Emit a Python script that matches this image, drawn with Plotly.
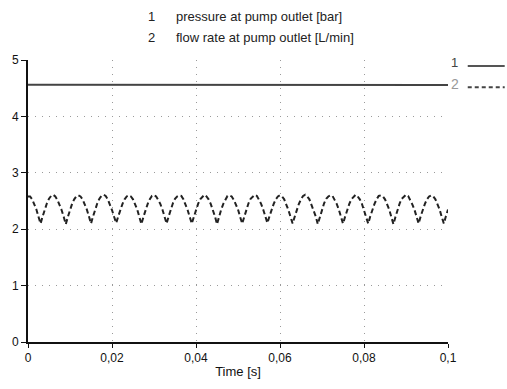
import plotly.graph_objects as go

# ---- data ----
pressure_time = [0.0, 0.01, 0.02, 0.03, 0.04, 0.05, 0.06, 0.07, 0.08, 0.09, 0.1]
pressure_bar = [4.56, 4.56, 4.555, 4.56, 4.565, 4.56, 4.555, 4.56, 4.56, 4.555, 4.555]

flow_step = 0.0005
flow_lpm = [
    2.58, 2.58, 2.53, 2.45, 2.35, 2.22, 2.10, 2.23, 2.35, 2.46, 2.54, 2.59,
    2.61, 2.58, 2.52, 2.44, 2.34, 2.22, 2.09, 2.22, 2.35, 2.45, 2.53, 2.58,
    2.60, 2.58, 2.53, 2.45, 2.35, 2.23, 2.10, 2.23, 2.36, 2.46, 2.54, 2.59,
    2.61, 2.59, 2.53, 2.44, 2.34, 2.22, 2.11, 2.23, 2.35, 2.45, 2.53, 2.58,
    2.60, 2.58, 2.53, 2.45, 2.35, 2.22, 2.09, 2.22, 2.35, 2.45, 2.53, 2.59,
    2.61, 2.58, 2.52, 2.45, 2.35, 2.23, 2.10, 2.23, 2.35, 2.46, 2.54, 2.58,
    2.60, 2.59, 2.53, 2.45, 2.34, 2.22, 2.10, 2.22, 2.35, 2.45, 2.53, 2.58,
    2.61, 2.58, 2.53, 2.45, 2.35, 2.23, 2.09, 2.23, 2.35, 2.45, 2.53, 2.59,
    2.60, 2.58, 2.52, 2.44, 2.35, 2.22, 2.10, 2.22, 2.36, 2.46, 2.54, 2.58,
    2.61, 2.59, 2.53, 2.45, 2.35, 2.23, 2.11, 2.23, 2.35, 2.45, 2.53, 2.58,
    2.60, 2.58, 2.53, 2.45, 2.34, 2.22, 2.10, 2.22, 2.35, 2.45, 2.53, 2.59,
    2.61, 2.58, 2.53, 2.44, 2.35, 2.23, 2.09, 2.23, 2.35, 2.46, 2.54, 2.58,
    2.60, 2.59, 2.52, 2.45, 2.35, 2.22, 2.10, 2.22, 2.35, 2.45, 2.53, 2.58,
    2.61, 2.58, 2.53, 2.45, 2.34, 2.23, 2.10, 2.23, 2.36, 2.45, 2.53, 2.59,
    2.60, 2.58, 2.53, 2.45, 2.35, 2.22, 2.09, 2.22, 2.35, 2.46, 2.54, 2.58,
    2.61, 2.59, 2.52, 2.44, 2.35, 2.23, 2.10, 2.23, 2.35, 2.45, 2.53, 2.58,
    2.60, 2.58, 2.53, 2.45, 2.35, 2.22, 2.10, 2.23, 2.35,
]
flow_time = [round(i * flow_step, 5) for i in range(len(flow_lpm))]

x_ticks = [0, 0.02, 0.04, 0.06, 0.08, 0.1]
y_ticks = [0, 1, 2, 3, 4, 5]
legend_labels = ["pressure at pump outlet [bar]", "flow rate at pump outlet [L/min]"]

FONT = "Liberation Sans, Arial, sans-serif"

fig = go.Figure()
fig.add_trace(go.Scatter(
    x=pressure_time, y=pressure_bar, mode="lines",
    line=dict(color="#444444", width=2), showlegend=False))
fig.add_trace(go.Scatter(
    x=flow_time, y=flow_lpm, mode="lines",
    line=dict(color="#222222", width=2, dash="5px,3px"), showlegend=False))

# legend text at top
for i, (num, lab) in enumerate(zip(["1", "2"], legend_labels)):
    yy = 1.155 - i * 0.076
    fig.add_annotation(x=0.294, y=yy, xref="paper", yref="paper", text=num,
                       showarrow=False, xanchor="center", yanchor="middle",
                       font=dict(family=FONT, size=13, color="#222"))
    fig.add_annotation(x=0.348, y=yy, xref="paper", yref="paper", text=lab,
                       showarrow=False, xanchor="left", yanchor="middle",
                       font=dict(family=FONT, size=13, color="#222"))

# right-side line key
fig.add_annotation(x=1.016, y=0.99, xref="paper", yref="paper", text="1",
                   showarrow=False, xanchor="center", yanchor="middle",
                   font=dict(family=FONT, size=13, color="#444"))
fig.add_annotation(x=1.016, y=0.915, xref="paper", yref="paper", text="2",
                   showarrow=False, xanchor="center", yanchor="middle",
                   font=dict(family=FONT, size=14, color="#999"))
fig.add_shape(type="line", xref="paper", yref="paper", x0=1.047, x1=1.135,
              y0=0.979, y1=0.979, line=dict(color="#555", width=2))
fig.add_shape(type="line", xref="paper", yref="paper", x0=1.047, x1=1.135,
              y0=0.903, y1=0.903, line=dict(color="#444", width=2, dash="4px,3px"))

fig.update_layout(
    width=507, height=389,
    margin=dict(l=26, r=59, t=60, b=39),
    paper_bgcolor="white", plot_bgcolor="white",
    separators=", ",
    font=dict(family=FONT, size=12, color="#111"),
    xaxis=dict(range=[0, 0.1], tickvals=x_ticks, showgrid=True,
               gridcolor="#9a9a9a", griddash="1px,6px", gridwidth=1,
               showline=True, linecolor="#111", linewidth=2,
               ticks="outside", ticklen=4, tickcolor="#111",
               zeroline=False,
               title=dict(text="Time [s]", standoff=2,
                          font=dict(family=FONT, size=13))),
    yaxis=dict(range=[0, 5], tickvals=y_ticks, showgrid=True,
               gridcolor="#9a9a9a", griddash="1px,6px", gridwidth=1,
               showline=True, linecolor="#111", linewidth=2,
               ticks="outside", ticklen=5, tickcolor="#111",
               zeroline=False),
)

fig.write_html("out.html")
